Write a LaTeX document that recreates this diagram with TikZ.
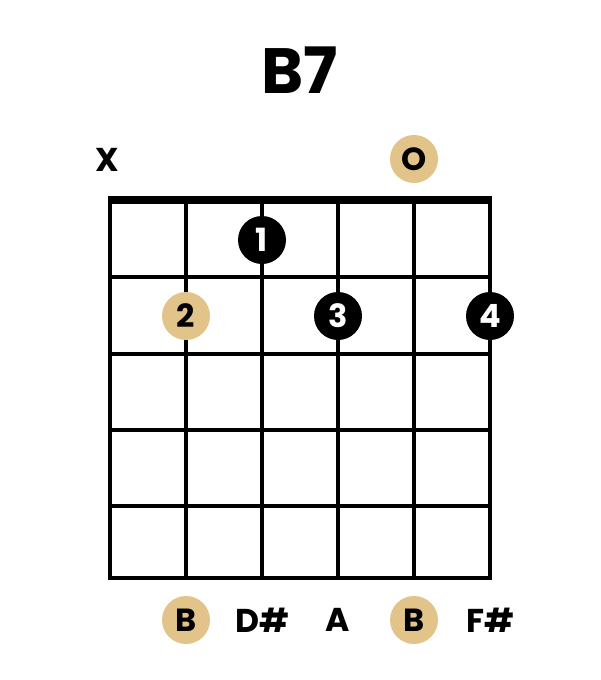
\documentclass[tikz,border=0pt]{standalone}
\usepackage{fontspec}
\setmainfont{Poppins}[BoldFont={* Bold}]
\definecolor{tan}{HTML}{E2C48A}
\begin{document}
\begin{tikzpicture}[x=1pt,y=-1pt,
  gridline/.style={line width=4pt,line cap=rect},
  nutline/.style={line width=8pt},
  fdot/.style={circle,fill=black,minimum size=48pt,inner sep=0pt,text=white,font=\bfseries\fontsize{32}{32}\selectfont},
  tdot/.style={circle,fill=tan,minimum size=48pt,inner sep=0pt,text=black,font=\bfseries\fontsize{32}{32}\selectfont},
  lbl/.style={inner sep=0pt,text=black,font=\bfseries\fontsize{33}{33}\selectfont}]
\useasboundingbox[fill=white] (0,0) rectangle (600,680);
\node[lbl,font=\bfseries\fontsize{64}{64}\selectfont] (title) at (300,70) {B7};
% strings
\foreach \i/\x in {1/110,2/186,3/262,4/338,5/414,6/490}{
  \coordinate (s\i t) at (\x,200);
  \coordinate (s\i b) at (\x,578);
  \draw[gridline] (s\i t) -- (s\i b);
}
% frets
\foreach \j/\y in {1/277,2/354,3/430,4/506,5/578}{
  \coordinate (f\j l) at (110,\y);
  \coordinate (f\j r) at (490,\y);
  \draw[gridline] (f\j l) -- (f\j r);
}
\coordinate (nl) at (108,200);
\coordinate (nr) at (492,200);
\draw[nutline] (nl) -- (nr);
% open / muted
\node[lbl] (mute) at (107,160) {X};
\node[tdot] (open) at (414,159) {O};
% fingers
\node[fdot] (d1) at (262,240) {1};
\node[tdot] (d2) at (186,316) {2};
\node[fdot] (d3) at (338,316) {3};
\node[fdot] (d4) at (490,316) {4};
% notes
\node[tdot] (n2) at (186,620) {B};
\node[lbl] (n3) at (262,620) {D\#};
\node[lbl] (n4) at (338,620) {A};
\node[tdot] (n5) at (414,620) {B};
\node[lbl] (n6) at (490,620) {F\#};
\end{tikzpicture}
\end{document}
